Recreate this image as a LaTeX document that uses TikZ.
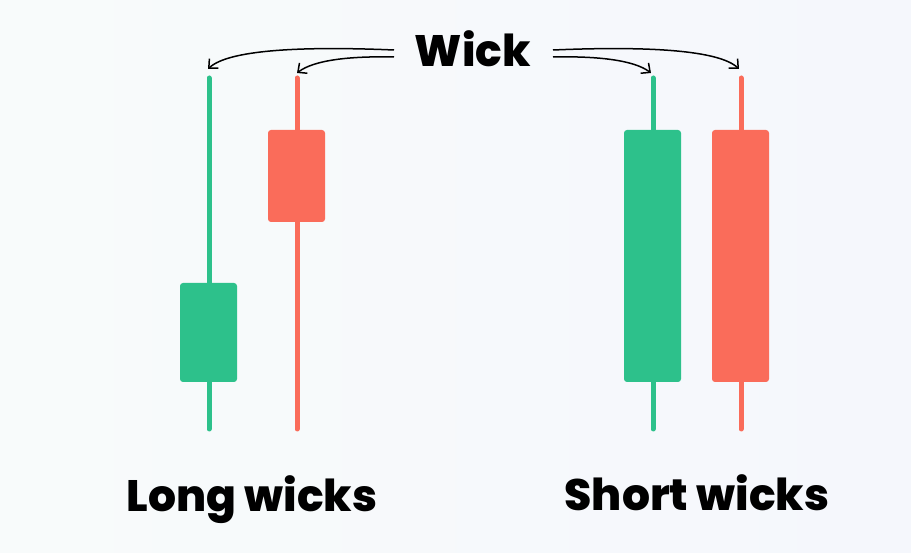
\documentclass[tikz,border=0pt]{standalone}
\usepackage{fontspec}
\setmainfont{Poppins}[BoldFont={Poppins ExtraBold}]
\usetikzlibrary{arrows.meta}
\definecolor{bull}{RGB}{45,193,139}
\definecolor{bear}{RGB}{250,108,90}
\definecolor{bgA}{RGB}{248,251,251}
\definecolor{bgB}{RGB}{245,247,252}
\begin{document}
\begin{tikzpicture}[x=1pt,y=-1pt,
  wickline/.style={line width=5pt,line cap=round},
  body/.style={rounded corners=3pt,inner sep=0pt},
  label/.style={font=\bfseries\fontsize{44}{50}\selectfont,inner sep=0pt,anchor=base},
  pointer/.style={line width=1.5pt,-{Straight Barb[length=7pt,width=13pt]}}]
\shade[left color=bgA,right color=bgB] (0,0) rectangle (911,553);
\useasboundingbox (0,0) rectangle (911,553);
% long wicks
\coordinate (g1t) at (209,78); \coordinate (g1b) at (209,429);
\coordinate (r1t) at (297,78); \coordinate (r1b) at (297,429);
\draw[wickline,bull] (g1t) -- (g1b);
\draw[wickline,bear] (r1t) -- (r1b);
\fill[body,bull] (180,283) rectangle (237,382);
\fill[body,bear] (268,130) rectangle (325,222);
% short wicks
\coordinate (g2t) at (653,78); \coordinate (g2b) at (653,429);
\coordinate (r2t) at (741,78); \coordinate (r2b) at (741,429);
\draw[wickline,bull] (g2t) -- (g2b);
\draw[wickline,bear] (r2t) -- (r2b);
\fill[body,bull] (624,130) rectangle (681,382);
\fill[body,bear] (712,130) rectangle (769,382);
% labels
\node[label] (wick) at (473,67) {Wick};
\node[label] (long) at (252,511) {Long wicks};
\node[label] (short) at (697,510) {Short wicks};
% pointers
\coordinate (s1) at (394,50); \coordinate (s2) at (394,57);
\coordinate (s3) at (553,57); \coordinate (s4) at (553,50);
\coordinate (t1) at (208,69); \coordinate (t2) at (297,73);
\coordinate (t3) at (651,73); \coordinate (t4) at (739,69);
\draw[pointer] (s1) .. controls (300,46) and (228,50) .. (t1);
\draw[pointer] (s2) .. controls (350,56) and (314,60) .. (t2);
\draw[pointer] (s3) .. controls (597,56) and (634,60) .. (t3);
\draw[pointer] (s4) .. controls (647,46) and (719,50) .. (t4);
\end{tikzpicture}
\end{document}
